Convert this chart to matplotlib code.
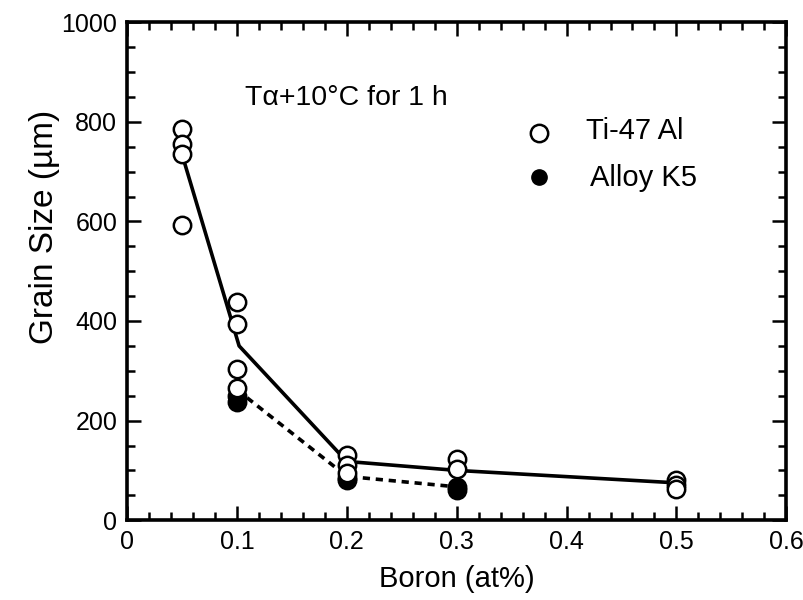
import matplotlib
matplotlib.use("Agg")
import matplotlib.pyplot as plt
from matplotlib.ticker import MultipleLocator, FixedLocator
from matplotlib import font_manager

plt.rcParams['font.family'] = ['Liberation Sans', 'DejaVu Sans']
names = {f.name for f in font_manager.fontManager.ttflist}
tick_family = ['Liberation Sans Narrow', 'Liberation Sans'] if 'Liberation Sans Narrow' in names else ['Liberation Sans']

# Ti-47 Al measured grain sizes (open circles)
ti_x = [0.05, 0.05, 0.05, 0.05, 0.1, 0.1, 0.1, 0.1, 0.2, 0.2, 0.2, 0.3, 0.3, 0.5, 0.5, 0.5]
ti_y = [785, 755, 735, 592, 438, 393, 303, 265, 130, 110, 95, 122, 102, 80, 70, 62]
# Alloy K5 measured grain sizes (filled circles)
k5_x = [0.1, 0.1, 0.2, 0.2, 0.3, 0.3]
k5_y = [250, 237, 85, 80, 66, 60]
# Trend lines
ti_line_x = [0.05, 0.102, 0.2, 0.3, 0.5]
ti_line_y = [735, 350, 118, 100, 75]
k5_line_x = [0.1, 0.2, 0.3]
k5_line_y = [262, 88, 67]

x_ticks = [0, 0.1, 0.2, 0.3, 0.4, 0.5, 0.6]
x_labels = ['0', '0.1', '0.2', '0.3', '0.4', '0.5', '0.6']
y_ticks = [0, 200, 400, 600, 800, 1000]
y_labels = ['0', '200', '400', '600', '800', '1000']

fig = plt.figure(figsize=(8.04, 6.0), dpi=100)
ax = fig.add_axes([0.158, 0.133, 0.82, 0.830])

ax.plot(ti_line_x, ti_line_y, '-', color='black', lw=2.6, zorder=2)
ax.plot(k5_line_x, k5_line_y, color='black', lw=2.6, ls=(0, (2.0, 1.6)), zorder=2)
ax.plot(k5_x, k5_y, 'o', ms=12.5, mfc='black', mec='black', mew=1.8, ls='none', zorder=3)
ax.plot(ti_x, ti_y, 'o', ms=12.5, mfc='white', mec='black', mew=1.8, ls='none', zorder=4)

ax.set_xlim(0, 0.6)
ax.set_ylim(0, 1000)
ax.xaxis.set_major_locator(FixedLocator(x_ticks))
ax.yaxis.set_major_locator(FixedLocator(y_ticks))
ax.set_xticklabels(x_labels, family=tick_family, fontsize=18)
ax.set_yticklabels(y_labels, family=tick_family, fontsize=18)
ax.xaxis.set_minor_locator(MultipleLocator(0.02))
ax.yaxis.set_minor_locator(MultipleLocator(50))

ax.tick_params(which='both', direction='in', top=True, right=True, width=1.8)
ax.tick_params(which='major', length=10, pad=7)
ax.tick_params(which='minor', length=6)
for s in ax.spines.values():
    s.set_linewidth(2.6)

ax.set_xlabel('Boron (at%)', fontsize=21, labelpad=8)
ax.set_ylabel('Grain Size (µm)', fontsize=24)
ax.yaxis.set_label_coords(-0.102, 0.59)

ax.text(0.107, 847, 'T\u03b1+10°C for 1 h', fontsize=20.5, va='center', ha='left')

ax.plot([0.375], [777], 'o', ms=12.5, mfc='white', mec='black', mew=1.8)
ax.plot([0.375], [689], 'o', ms=11, mfc='black', mec='black')
ax.text(0.418, 781, 'Ti-47 Al', fontsize=21, va='center', ha='left')
ax.text(0.421, 688, 'Alloy K5', fontsize=21, va='center', ha='left')

fig.savefig('out.png', dpi=100)
